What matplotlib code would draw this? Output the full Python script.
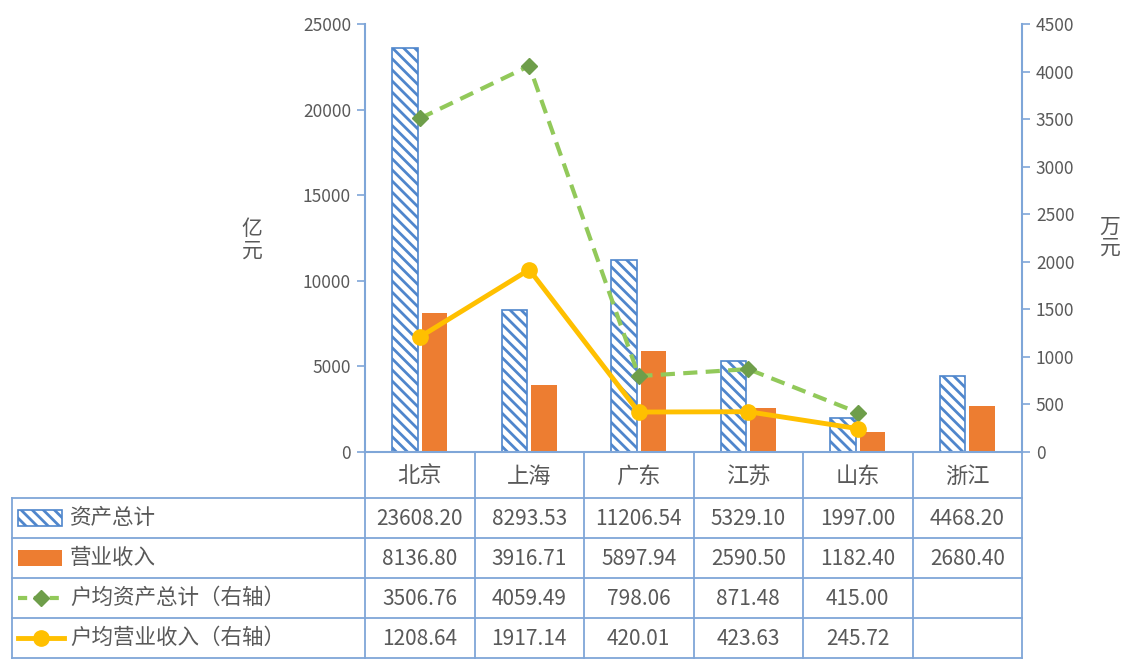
import numpy as np
import matplotlib
matplotlib.use("Agg")
import matplotlib.pyplot as plt
from matplotlib.patches import Rectangle
from matplotlib.lines import Line2D

plt.rcParams['font.family'] = ['Noto Sans CJK SC', 'DejaVu Sans']
plt.rcParams['hatch.linewidth'] = 2.0

# data
provinces = ['北京', '上海', '广东', '江苏', '山东', '浙江']
total_assets = [23608.20, 8293.53, 11206.54, 5329.10, 1997.00, 4468.20]
revenue = [8136.80, 3916.71, 5897.94, 2590.50, 1182.40, 2680.40]
avg_assets = [3506.76, 4059.49, 798.06, 871.48, 415.00, np.nan]
avg_revenue = [1208.64, 1917.14, 420.01, 423.63, 245.72, np.nan]
series_names = ['资产总计', '营业收入', '户均资产总计（右轴）', '户均营业收入（右轴）']

# colours
BLUE = '#4F86CC'
ORANGE = '#ED7D31'
GREEN = '#92C95A'
GREEN_MK = '#6E9E4A'
GOLD = '#FFC000'
AXC = '#7FA6D8'
TXT = '#595959'
HATCH = '\\\\\\'

W, H = 1129, 659
fig = plt.figure(figsize=(W / 100, H / 100), dpi=100)

# plot area in pixels
X0, X1 = 365, 1022
Y_TOP, Y_ZERO = 24, 452
ax = fig.add_axes([X0 / W, 1 - Y_ZERO / H, (X1 - X0) / W, (Y_ZERO - Y_TOP) / H])
ax2 = ax.twinx()

x = np.arange(len(provinces))
bw = 0.23
ax.bar(x - 0.135, total_assets, bw, facecolor='white', edgecolor=BLUE,
       hatch=HATCH, linewidth=1.2, zorder=2)
ax.bar(x + 0.135, revenue, bw, color=ORANGE, zorder=2)

ax2.plot(x, avg_assets, color=GREEN, lw=3, dashes=(3.4, 2), marker='D',
         markersize=8, markerfacecolor=GREEN_MK, markeredgecolor=GREEN_MK, zorder=3)
ax2.plot(x, avg_revenue, color=GOLD, lw=3.5, marker='o', markersize=11,
         markerfacecolor=GOLD, markeredgecolor=GOLD, zorder=3)

ax.set_xlim(-0.5, len(provinces) - 0.5)
ax.set_ylim(0, 25000)
ax.set_yticks(np.arange(0, 25001, 5000))
ax2.set_ylim(0, 4500)
ax2.set_yticks(np.arange(0, 4501, 500))
ax.set_xticks([])

for a in (ax, ax2):
    for s in a.spines.values():
        s.set_visible(False)
    a.tick_params(axis='y', colors=AXC, labelcolor=TXT, labelsize=12.5,
                  length=6, width=1.2, direction='out', pad=4)
for a, side in ((ax, 'left'), (ax, 'bottom'), (ax2, 'right')):
    a.spines[side].set_visible(True)
    a.spines[side].set_color(AXC)
    a.spines[side].set_linewidth(1.5)

fig.text(252 / W, 1 - 240 / H, '亿\n元', fontsize=15, color=TXT,
         ha='center', va='center', linespacing=0.95)
fig.text(1110 / W, 1 - 237 / H, '万\n元', fontsize=15, color=TXT,
         ha='center', va='center', linespacing=0.95)

# data table below the plot, pixel coordinates
tb = fig.add_axes([0, 0, 1, 1], zorder=-1)
tb.set_xlim(0, W)
tb.set_ylim(H, 0)
tb.axis('off')

n = len(provinces)
cw = (X1 - X0) / n
TL = 12
head_bot = 498
rh = 40
rows_y = [head_bot + i * rh for i in range(len(series_names) + 1)]

for i in range(n + 1):
    tb.plot([X0 + i * cw] * 2, [Y_ZERO, rows_y[-1]], color=AXC, lw=1.3)
tb.plot([TL, TL], [head_bot, rows_y[-1]], color=AXC, lw=1.3)
for yy in rows_y:
    tb.plot([TL, X1], [yy, yy], color=AXC, lw=1.3)

for i, p in enumerate(provinces):
    tb.text(X0 + (i + 0.5) * cw, (Y_ZERO + head_bot) / 2 + 1, p, fontsize=16,
            color=TXT, ha='center', va='center')

table_vals = [total_assets, revenue, avg_assets, avg_revenue]
for r, (name, vals) in enumerate(zip(series_names, table_vals)):
    yc = rows_y[r] + rh / 2
    tb.text(70, yc, name, fontsize=15.5, color=TXT, ha='left', va='center')
    for i, v in enumerate(vals):
        if np.isnan(v):
            continue
        tb.text(X0 + (i + 0.5) * cw, yc + 1, f'{v:.2f}', fontsize=15,
                color=TXT, ha='center', va='center')

# legend keys
y0 = rows_y[0] + rh / 2
tb.add_patch(Rectangle((18, y0 - 8), 44, 16, facecolor='white', edgecolor=BLUE,
                       hatch=HATCH, lw=1.2))
y1 = rows_y[1] + rh / 2
tb.add_patch(Rectangle((18, y1 - 8), 44, 16, facecolor=ORANGE, edgecolor='none'))
y2 = rows_y[2] + rh / 2
tb.add_line(Line2D([18, 64], [y2, y2], color=GREEN, lw=3, dashes=(2.2, 1.6)))
tb.add_line(Line2D([41], [y2], marker='D', markersize=8, color=GREEN_MK, lw=0))
y3 = rows_y[3] + rh / 2
tb.add_line(Line2D([18, 64], [y3, y3], color=GOLD, lw=3.5))
tb.add_line(Line2D([41], [y3], marker='o', markersize=11, color=GOLD, lw=0))

fig.savefig('out.png', dpi=100)
